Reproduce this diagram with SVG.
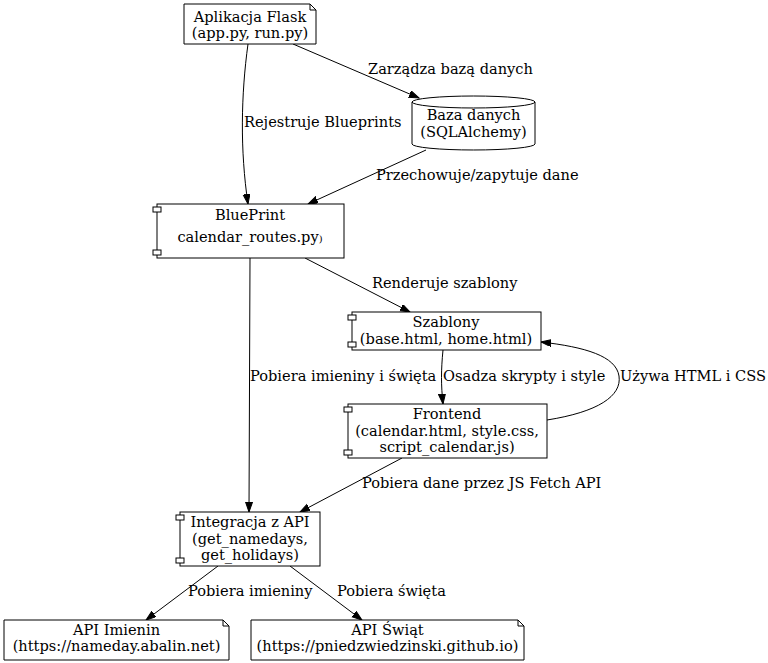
<svg xmlns="http://www.w3.org/2000/svg" width="768" height="663" viewBox="0 0 768 663">
  <style>
    text { font-family: "DejaVu Serif", "Liberation Serif", serif; font-size: 14.6px; fill: #000; }
    .node text { text-anchor: middle; }
    .shape { fill: #fff; stroke: #000; stroke-width: 1; }
    .edge { fill: none; stroke: #000; stroke-width: 1; }
  </style>
  <defs>
    <marker id="arrow" markerUnits="userSpaceOnUse" markerWidth="12" markerHeight="10" refX="10" refY="3.5" orient="auto">
      <path d="M0,0 L10,3.5 L0,7 Z" fill="#000" stroke="#000"/>
    </marker>
  </defs>
  <rect width="768" height="663" fill="#fff"/>

  <!-- connectors -->
  <g id="edges">
    <path class="edge" d="M248,44 C241,95 240,150 248,204" marker-end="url(#arrow)"/>
    <text x="244" y="127">Rejestruje Blueprints</text>

    <path class="edge" d="M293,44 L419,98" marker-end="url(#arrow)"/>
    <text x="368" y="74">Zarządza bazą danych</text>

    <path class="edge" d="M426,150 L308,204" marker-end="url(#arrow)"/>
    <text x="376" y="180">Przechowuje/zapytuje dane</text>

    <path class="edge" d="M305,258 L410,312" marker-end="url(#arrow)"/>
    <text x="372" y="288">Renderuje szablony</text>

    <path class="edge" d="M250,258 L249,512" marker-end="url(#arrow)"/>
    <text x="250" y="381">Pobiera imieniny i święta</text>

    <path class="edge" d="M443,350 C441,370 441,385 443,404" marker-end="url(#arrow)"/>
    <text x="443" y="381">Osadza skrypty i style</text>

    <path class="edge" d="M547,420 C598,412 622,396 619,376 C616,356 585,347 541,342" marker-end="url(#arrow)"/>
    <text x="620" y="381">Używa HTML i CSS</text>

    <path class="edge" d="M402,458 L300,512" marker-end="url(#arrow)"/>
    <text x="362" y="488">Pobiera dane przez JS Fetch API</text>

    <path class="edge" d="M218,566 L146,620" marker-end="url(#arrow)"/>
    <text x="188" y="596">Pobiera imieniny</text>

    <path class="edge" d="M290,566 L362,620" marker-end="url(#arrow)"/>
    <text x="337" y="596">Pobiera święta</text>
  </g>

  <!-- Flask application (note) -->
  <g id="flask" class="node">
    <path class="shape" d="M184,4 H310 L316,10 V44 H184 Z"/>
    <path class="edge" d="M310,4 V10 H316"/>
    <text x="250" y="22">Aplikacja Flask</text>
    <text x="250" y="38">(app.py, run.py)</text>
  </g>

  <!-- Database (cylinder) -->
  <g id="database" class="node">
    <path class="shape" d="M412,102 A61.5,6 0 0 1 535,102 V144 A61.5,6 0 0 1 412,144 Z"/>
    <path class="edge" d="M412,102 A61.5,6 0 0 0 535,102"/>
    <text x="473.5" y="120">Baza danych</text>
    <text x="473.5" y="136.5">(SQLAlchemy)</text>
  </g>

  <!-- Blueprint (component) -->
  <g id="blueprint" class="node">
    <rect class="shape" x="157" y="204" width="187" height="54"/>
    <rect class="shape" x="153" y="207" width="8" height="5"/>
    <rect class="shape" x="153" y="250" width="8" height="5"/>
    <text x="250" y="220">BluePrint</text>
    <text x="250" y="241.5">calendar_routes.py<tspan font-size="10">)</tspan></text>
  </g>

  <!-- Templates (component) -->
  <g id="templates" class="node">
    <rect class="shape" x="352" y="312" width="189" height="38"/>
    <rect class="shape" x="348" y="315" width="8" height="5"/>
    <rect class="shape" x="348" y="342" width="8" height="5"/>
    <text x="446" y="327">Szablony</text>
    <text x="446" y="344">(base.html, home.html)</text>
  </g>

  <!-- Frontend (component) -->
  <g id="frontend" class="node">
    <rect class="shape" x="348" y="404" width="199" height="54"/>
    <rect class="shape" x="344" y="407" width="8" height="5"/>
    <rect class="shape" x="344" y="450" width="8" height="5"/>
    <text x="447" y="419">Frontend</text>
    <text x="447" y="436">(calendar.html, style.css,</text>
    <text x="447" y="452">script_calendar.js)</text>
  </g>

  <!-- API integration (component) -->
  <g id="integration" class="node">
    <rect class="shape" x="180" y="512" width="140" height="54"/>
    <rect class="shape" x="176" y="515" width="8" height="5"/>
    <rect class="shape" x="176" y="558" width="8" height="5"/>
    <text x="250" y="527">Integracja z API</text>
    <text x="250" y="544">(get_namedays,</text>
    <text x="250" y="560">get_holidays)</text>
  </g>

  <!-- Name-day API (note) -->
  <g id="api-namedays" class="node">
    <path class="shape" d="M4,620 H223 L229,626 V660 H4 Z"/>
    <path class="edge" d="M223,620 V626 H229"/>
    <text x="116.5" y="635">API Imienin</text>
    <text x="116.5" y="651">(https://nameday.abalin.net)</text>
  </g>

  <!-- Holidays API (note) -->
  <g id="api-holidays" class="node">
    <path class="shape" d="M251,620 H518 L524,626 V660 H251 Z"/>
    <path class="edge" d="M518,620 V626 H524"/>
    <text x="387.5" y="635">API Świąt</text>
    <text x="387.5" y="651">(https://pniedzwiedzinski.github.io)</text>
  </g>
</svg>
